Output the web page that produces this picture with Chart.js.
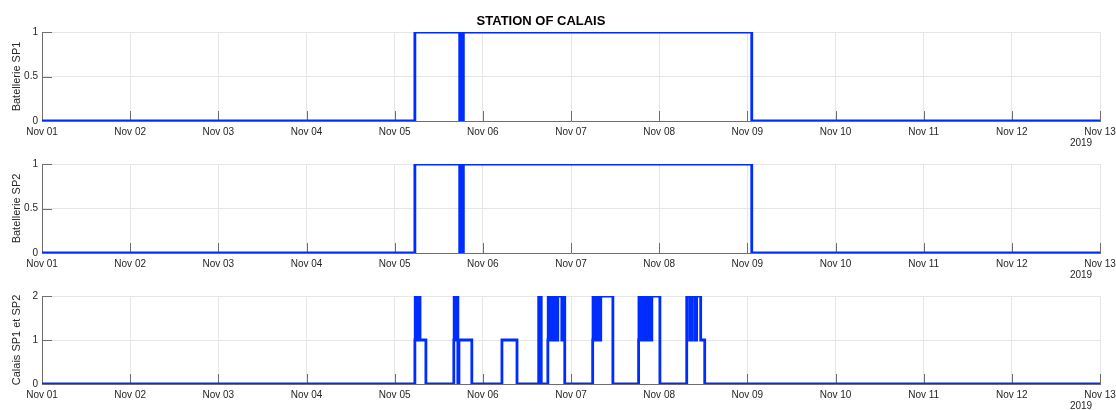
<!DOCTYPE html>
<html>
<head>
<meta charset="utf-8">
<title>Station of Calais</title>
<script src="https://cdn.jsdelivr.net/npm/chart.js@4.4.1/dist/chart.umd.min.js"></script>
<style>
  html, body { margin: 0; padding: 0; background: #ffffff; }
  #wrap { position: relative; width: 1116px; height: 410px; overflow: hidden; background: #ffffff; }
  #wrap canvas { position: absolute; left: 0; top: 0; }
</style>
</head>
<body>
<div id="wrap">
  <canvas id="sp1" width="1116" height="410"></canvas>
  <canvas id="sp2" width="1116" height="410"></canvas>
  <canvas id="sum" width="1116" height="410"></canvas>
</div>
<script>
// Day ticks, one every 24 h starting 2019-11-01 00:00
const dayLabels = ['Nov 01', 'Nov 02', 'Nov 03', 'Nov 04', 'Nov 05', 'Nov 06', 'Nov 07',
                   'Nov 08', 'Nov 09', 'Nov 10', 'Nov 11', 'Nov 12', 'Nov 13'];
const yearLabel = '2019';
const titleText = 'STATION OF CALAIS';

// Hours since 2019-11-01 00:00; each value holds from that hour until the next one
const sp1Hours  = [0, 101.5, 113.7, 113.9, 114.1, 114.3, 114.5, 114.7, 193.2, 288];
const sp1Values = [0, 1,     0,     1,     0,     1,     0,     1,     0,     0];

const sp2Hours  = [0, 101.5, 113.7, 113.9, 114.1, 114.3, 114.5, 114.7, 193.2, 288];
const sp2Values = [0, 1,     0,     1,     0,     1,     0,     1,     0,     0];

const sumHours = [
  0,
  101.5, 101.6, 101.8, 102.0, 102.2, 102.4, 102.6, 102.8, 102.9, 104.5,
  112.1, 112.2, 112.4, 112.6, 112.8, 113.0, 113.2, 113.5, 117.0,
  125.2, 129.3,
  135.2, 135.4, 135.6, 135.9,
  137.7, 137.8, 138.0, 138.2, 138.4, 138.6, 138.8, 139.0, 139.2, 139.4, 139.6, 139.8,
  140.1, 140.4, 141.5, 141.7, 142.3,
  149.9, 150.0, 150.2, 150.4, 150.6, 150.8, 151.0, 151.2, 151.4, 152.1, 155.4,
  162.4, 162.5, 162.7, 162.9, 163.1, 163.3, 163.5, 163.7, 163.9, 164.1, 164.3,
  164.5, 164.7, 164.9, 165.1, 165.3, 165.4, 166.0, 168.2,
  175.5, 176.3, 176.9, 177.7, 178.2, 179.3, 180.4,
  288
];
const sumValues = [
  0,
  1, 2, 1, 2, 1, 2, 1, 2, 1, 0,
  1, 2, 1, 2, 1, 2, 0, 1, 0,
  1, 0,
  2, 1, 2, 0,
  1, 2, 1, 2, 1, 2, 1, 2, 1, 2, 1, 2,
  1, 2, 1, 2, 0,
  1, 2, 1, 2, 1, 2, 1, 2, 1, 2, 0,
  1, 2, 1, 2, 1, 2, 1, 2, 1, 2, 1,
  2, 1, 2, 1, 2, 1, 2, 0,
  2, 1, 2, 1, 2, 1, 0,
  0
];

const LINE_BLUE = 'rgb(0, 45, 255)';
const TEXT = '#262626';
const AXIS = '#6e6e6e';
const GRID = '#e6e6e6';
const FAMILY = '"Liberation Sans", Arial, Helvetica, sans-serif';

// Short inward tick marks on the bottom and left axes, plus the year and title texts
const axisDecor = {
  id: 'axisDecor',
  beforeDatasetsDraw(chart) {
    const { ctx, chartArea, scales } = chart;
    ctx.save();
    ctx.strokeStyle = AXIS;
    ctx.lineWidth = 1;
    ctx.beginPath();
    scales.x.ticks.forEach(t => {
      const px = Math.round(scales.x.getPixelForValue(t.value)) + 0.5;
      ctx.moveTo(px, chartArea.bottom);
      ctx.lineTo(px, chartArea.bottom - 10);
    });
    scales.y.ticks.forEach(t => {
      const py = Math.round(scales.y.getPixelForValue(t.value)) + 0.5;
      ctx.moveTo(chartArea.left, py);
      ctx.lineTo(chartArea.left + 10, py);
    });
    ctx.stroke();
    ctx.restore();
  },
  afterDraw(chart, args, opts) {
    const { ctx, chartArea } = chart;
    ctx.save();
    ctx.fillStyle = TEXT;
    ctx.font = '10px ' + FAMILY;
    ctx.textAlign = 'center';
    ctx.textBaseline = 'middle';
    ctx.fillText(yearLabel, chartArea.right - 19, chartArea.bottom + 22);
    if (opts.title) {
      ctx.fillStyle = '#000000';
      ctx.font = 'bold 13px ' + FAMILY;
      ctx.fillText(opts.title, 541, 21);
    }
    ctx.restore();
  }
};

function makePanel(id, hours, values, cfg) {
  const points = hours.map((h, i) => ({ x: h, y: values[i] }));
  return new Chart(document.getElementById(id), {
    type: 'line',
    data: {
      datasets: [{
        data: points,
        stepped: 'before',
        borderColor: LINE_BLUE,
        borderWidth: 2.8,
        pointRadius: 0,
        fill: false
      }]
    },
    options: {
      responsive: false,
      animation: false,
      events: [],
      layout: { padding: { left: 0, right: 16, top: cfg.top, bottom: 0 } },
      plugins: {
        legend: { display: false },
        tooltip: { enabled: false },
        axisDecor: { title: cfg.title || null }
      },
      scales: {
        x: {
          type: 'linear',
          min: 0,
          max: 288,
          afterFit: s => {
            s.height = 410 - cfg.bottom;
            s.paddingLeft = 0;
            s.paddingRight = 0;
          },
          ticks: {
            stepSize: 24,
            autoSkip: false,
            maxRotation: 0,
            padding: 5,
            color: TEXT,
            font: { family: FAMILY, size: 10 },
            callback: v => dayLabels[Math.round(v / 24)]
          },
          grid: { color: GRID, drawTicks: false },
          border: { color: AXIS, width: 1 }
        },
        y: {
          type: 'linear',
          min: 0,
          max: cfg.max,
          afterFit: s => { s.width = 42; },
          ticks: {
            stepSize: cfg.step,
            padding: 4,
            color: TEXT,
            font: { family: FAMILY, size: 10 },
            callback: v => String(v)
          },
          title: {
            display: true,
            text: cfg.label,
            color: TEXT,
            font: { family: FAMILY, size: 11 },
            padding: { top: 10, bottom: 0 }
          },
          grid: { color: GRID, drawTicks: false },
          border: { color: AXIS, width: 1 }
        }
      }
    },
    plugins: [axisDecor]
  });
}

makePanel('sp1', sp1Hours, sp1Values, { top: 32, bottom: 121, max: 1, step: 0.5, label: 'Batellerie SP1', title: titleText });
makePanel('sp2', sp2Hours, sp2Values, { top: 164, bottom: 253, max: 1, step: 0.5, label: 'Batellerie SP2' });
makePanel('sum', sumHours, sumValues, { top: 296, bottom: 384, max: 2, step: 1, label: 'Calais SP1 et SP2' });
</script>
</body>
</html>
